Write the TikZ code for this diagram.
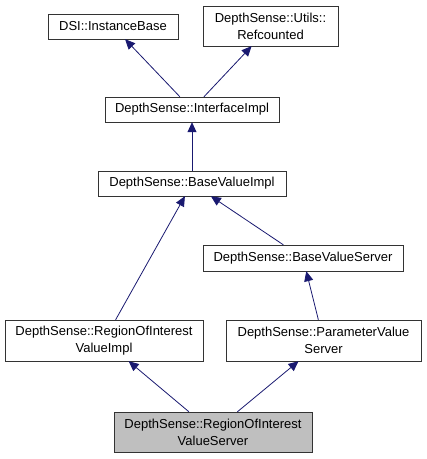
\documentclass[tikz,border=0pt]{standalone}
\usepackage{fontspec}
\setmainfont{Liberation Sans}
\usepackage{tikz}
\usetikzlibrary{arrows.meta}
\definecolor{edgeblue}{HTML}{191970}

\begin{document}
\begin{tikzpicture}[x=1pt, y=-1pt,
	cls/.style={draw=black!80, fill=white, inner sep=0pt, align=center, font=\fontsize{13}{17}\selectfont},
	cur/.style={cls, fill=black!25},
	inh/.style={edgeblue, line width=0.8pt, -{Triangle[length=10pt, width=9pt]}}]
	
	\useasboundingbox (0,0) rectangle (427,459);
	
	\node[cls, minimum width=130, minimum height=25] (dsi) at (113,26.5) {DSI::InstanceBase};
	\node[cls, minimum width=135, minimum height=40] (ref) at (270.5,26) {DepthSense::Utils::\\Refcounted};
	\node[cls, minimum width=174, minimum height=25] (ifc) at (192,109.5) {DepthSense::InterfaceImpl};
	\node[cls, minimum width=188, minimum height=25] (bvi) at (192,183.5) {DepthSense::BaseValueImpl};
	\node[cls, minimum width=200, minimum height=26] (bvs) at (303,258) {DepthSense::BaseValueServer};
	\node[cls, minimum width=198, minimum height=41] (roii) at (104,340.5) {DepthSense::RegionOfInterest\\ValueImpl};
	\node[cls, minimum width=195, minimum height=41] (pvs) at (323.5,340.5) {DepthSense::ParameterValue\\Server};
	\node[cur, minimum width=198, minimum height=40] (rois) at (213,432) {DepthSense::RegionOfInterest\\ValueServer};
	
	\draw[inh] (ifc) -- (dsi);
	\draw[inh] (ifc) -- (ref);
	\draw[inh] (bvi) -- (ifc);
	\draw[inh] (roii) -- (bvi);
	\draw[inh] (bvs) -- (bvi);
	\draw[inh] (pvs) -- (bvs);
	\draw[inh] (rois) -- (roii);
	\draw[inh] (rois) -- (pvs);
\end{tikzpicture}
\end{document}
